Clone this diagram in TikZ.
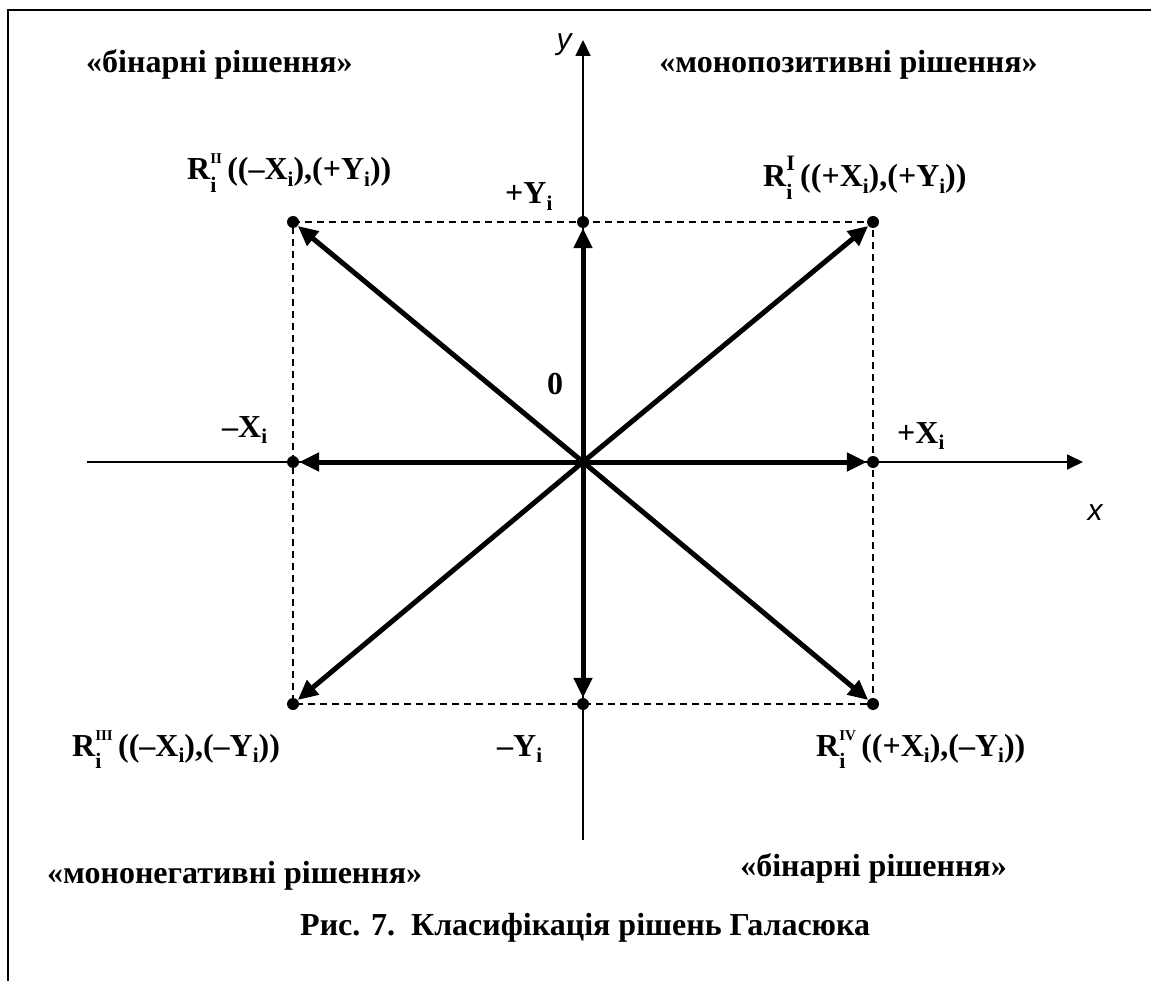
\documentclass[tikz,border=0pt]{standalone}
\usepackage{fontspec}
\setmainfont{Liberation Serif}
\newfontfamily\axfont{Liberation Sans}
\usetikzlibrary{arrows.meta}
\newcommand{\subi}{\raisebox{-0.2em}{\fontsize{21}{21}\selectfont i}}
\newcommand{\Rsym}[2]{R\rlap{\raisebox{-0.40em}{\fontsize{22}{22}\selectfont i}}\raisebox{0.5em}{\fontsize{#2}{#2}\selectfont #1}}
\begin{document}
\begin{tikzpicture}[x=1pt,y=-1pt,
  frame/.style={line width=2pt},
  axis/.style={line width=1.8pt,-{Triangle[length=16pt,width=15pt]}},
  vec/.style={line width=5pt,-{Triangle[length=20pt,width=18pt]}},
  guide/.style={line width=1.4pt,dash pattern=on 7pt off 5pt},
  dot/.style={circle,fill=black,inner sep=0pt,minimum size=12pt},
  lab/.style={font=\fontsize{32}{36}\selectfont\bfseries,inner sep=0pt},
  axlab/.style={font=\axfont\itshape\fontsize{30}{32}\selectfont,inner sep=0pt}]
\useasboundingbox (0,0) rectangle (1151,981);
\fill[white] (0,0) rectangle (1151,981);
% frame
\draw[frame] (1151,10.5) -- (8,10.5) -- (8,981);
% coordinates
\coordinate (O) at (583,462);
\coordinate (cR1) at (873,222);
\coordinate (cR2) at (293,222);
\coordinate (cR3) at (293,704);
\coordinate (cR4) at (873,704);
\coordinate (cXp) at (873,462);
\coordinate (cXm) at (293,462);
\coordinate (cYp) at (583,222);
\coordinate (cYm) at (583,704);
\coordinate (xl) at (87,462);
\coordinate (xr) at (1083,462);
\coordinate (yb) at (583,840);
\coordinate (yt) at (583,40);
% dashed guides
\draw[guide] (cR2) -- (cR1) -- (cR4) -- (cR3) -- cycle;
% axes
\draw[axis] (xl) -- (xr);
\draw[axis] (yb) -- (yt);
% points
\node[dot] (R1) at (cR1) {};
\node[dot] (R2) at (cR2) {};
\node[dot] (R3) at (cR3) {};
\node[dot] (R4) at (cR4) {};
\node[dot] (Xp) at (cXp) {};
\node[dot] (Xm) at (cXm) {};
\node[dot] (Yp) at (cYp) {};
\node[dot] (Ym) at (cYm) {};
% vectors
\foreach \p in {R1,R2,R3,R4,Xp,Xm,Yp,Ym}
  \draw[vec] (O) -- (\p);
% axis labels
\node[axlab] (ly) at (564,45) {y};
\node[axlab] (lx) at (1095,513) {x};
% point labels
\node[lab,anchor=base west] (tR2) at (187,180) {\Rsym{II}{15}\,((\textendash X\subi),(+Y\subi))};
\node[lab,anchor=base west] (tR1) at (763,187) {\Rsym{I}{22}\,((+X\subi),(+Y\subi))};
\node[lab,anchor=base west] (tR3) at (72,756) {\Rsym{III}{15}\,((\textendash X\subi),(\textendash Y\subi))};
\node[lab,anchor=base west] (tR4) at (816,756) {\Rsym{IV}{15}\,((+X\subi),(\textendash Y\subi))};
\node[lab,anchor=base west] (tYp) at (505,204) {+Y\subi};
\node[lab,anchor=base west] (tYm) at (497,756) {\textendash Y\subi};
\node[lab,anchor=base west] (tXm) at (222,437) {\textendash X\subi};
\node[lab,anchor=base west] (tXp) at (897,443) {+X\subi};
\node[lab,anchor=base west] (t0) at (547,395) {0};
% quadrant labels
\node[lab,anchor=base west] (q2) at (86,73) {«бінарні рішення»};
\node[lab,anchor=base east] (q1) at (1038,73) {«монопозитивні рішення»};
\node[lab,anchor=base west] (q3) at (47,883) {«мононегативні рішення»};
\node[lab,anchor=base east] (q4) at (1007,876) {«бінарні рішення»};
% caption
\node[lab,anchor=base west] (cap) at (300,935) {Рис. 7.\ \ Класифікація рішень Галасюка};
\end{tikzpicture}
\end{document}
